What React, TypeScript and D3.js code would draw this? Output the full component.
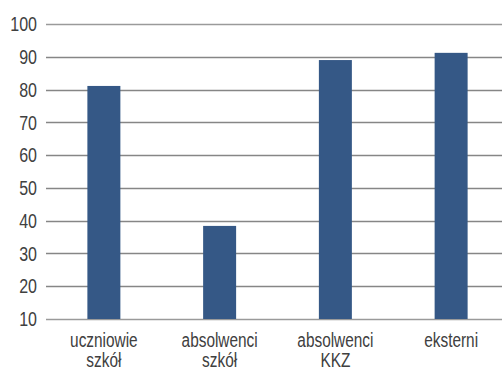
import React from "react";
import * as d3 from "d3";

const categories: string[][] = [
  ["uczniowie", "szkół"],
  ["absolwenci", "szkół"],
  ["absolwenci", "KKZ"],
  ["eksterni"],
];
const values: number[] = [81.1, 38.4, 89, 91.2];
const yTicks: number[] = [10, 20, 30, 40, 50, 60, 70, 80, 90, 100];

const W = 502;
const H = 370;
const FONT = "'Liberation Sans', Arial, sans-serif";

export default function App() {
  const x = d3
    .scaleBand<number>()
    .domain(categories.map((_, i) => i))
    .range([46, 509])
    .padding(0);
  const y = d3.scaleLinear().domain([10, 100]).range([319, 24]);
  const barW = x.bandwidth() * 0.285;

  return (
    <svg
      width={W}
      height={H}
      style={{ position: "absolute", left: 0, top: 0, background: "#fff" }}
    >
      {yTicks.map((t) => (
        <g key={t}>
          <line
            x1={46}
            x2={502}
            y1={Math.round(y(t)) + 0.5}
            y2={Math.round(y(t)) + 0.5}
            stroke={t === 10 || t === 100 ? "#9a9a9a" : "#868686"}
            strokeWidth={1.3}
          />
          <text
            transform={`translate(37,${y(t)}) scale(0.8,1)`}
            dy="0.36em"
            textAnchor="end"
            fontFamily={FONT}
            fontSize={20}
            fill="#404040"
          >
            {t}
          </text>
        </g>
      ))}
      {values.map((v, i) => (
        <rect
          key={i}
          x={x(i)! + x.bandwidth() / 2 - barW / 2}
          y={y(v)}
          width={barW}
          height={y(10) - y(v)}
          fill="#355886"
        />
      ))}
      {categories.map((lines, i) => (
        <text
          key={i}
          transform={`translate(${x(i)! + x.bandwidth() / 2},346.5) scale(0.77,1)`}
          textAnchor="middle"
          fontFamily={FONT}
          fontSize={20}
          fill="#404040"
        >
          {lines.map((l, j) => (
            <tspan key={j} x={0} dy={j === 0 ? 0 : 21}>
              {l}
            </tspan>
          ))}
        </text>
      ))}
    </svg>
  );
}
